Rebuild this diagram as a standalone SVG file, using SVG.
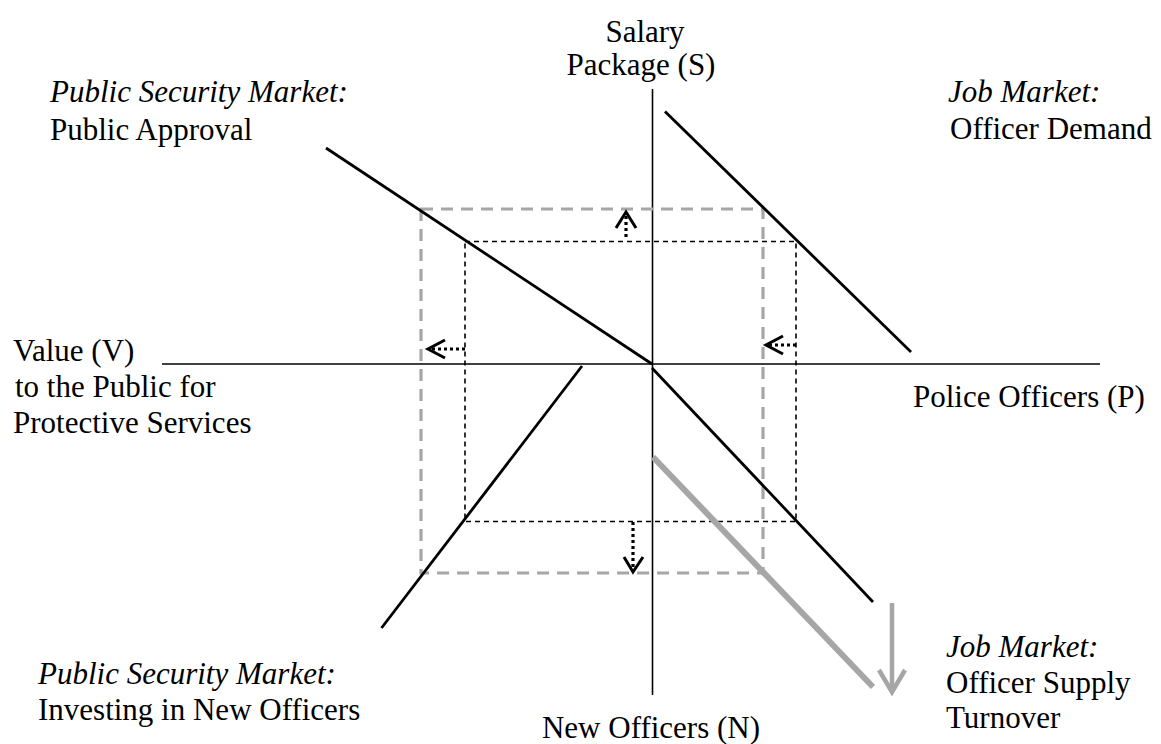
<svg xmlns="http://www.w3.org/2000/svg" width="1161" height="744" viewBox="0 0 1161 744">
<defs>
<style>
text{font-family:"Liberation Serif","Times New Roman",serif;font-size:31px;fill:#000}
.it{font-style:italic}
.axis{stroke:#000;stroke-width:1.6;fill:none}
.curve{stroke:#000;stroke-width:2.8;fill:none}
.gbox{stroke:#a6a6a6;stroke-width:3.2;stroke-dasharray:12 8;fill:none}
.bbox{stroke:#000;stroke-width:1.6;stroke-dasharray:5 4;fill:none}
.dot{stroke:#000;stroke-width:3.2;stroke-dasharray:3 3;fill:none}
.head{stroke:#000;stroke-width:3;fill:none}
.grey{stroke:#a6a6a6;stroke-width:6;fill:none}
</style>
</defs>
<rect width="1161" height="744" fill="#fff"/>
<g id="connectors">
<line class="axis" x1="652.5" y1="89" x2="652.5" y2="695"/>
<line class="axis" x1="162" y1="364" x2="1100" y2="364"/>
<rect class="gbox" x="421" y="209" width="342" height="364"/>
<rect class="bbox" x="465" y="241.5" width="331" height="280"/>
<line class="curve" x1="326" y1="148" x2="652" y2="364"/>
<line class="curve" x1="665" y1="111.5" x2="911" y2="352"/>
<line class="curve" x1="652" y1="368" x2="873" y2="602"/>
<line class="curve" x1="582" y1="366" x2="381.5" y2="628"/>
<line class="grey" x1="653" y1="457" x2="873" y2="687"/>
<line x1="892" y1="603" x2="892" y2="690" stroke="#a6a6a6" stroke-width="4.5"/>
<polyline points="879,670 892,692 905,670" stroke="#a6a6a6" stroke-width="4.5" fill="none"/>
<line class="dot" x1="626" y1="237" x2="626" y2="214"/>
<polyline class="head" points="616,228 626,212 636,228"/>
<line class="dot" x1="465" y1="349" x2="430" y2="349"/>
<polyline class="head" points="445,340 428,349 445,358"/>
<line class="dot" x1="796" y1="345" x2="768" y2="345"/>
<polyline class="head" points="783,336 766,345 783,354"/>
<line class="dot" x1="633" y1="522" x2="633" y2="568"/>
<polyline class="head" points="624,557 633,572 643,557"/>
</g>
<g id="label-s"><text x="645" y="42" text-anchor="middle">Salary</text><text x="641" y="75" text-anchor="middle">Package (S)</text></g>
<g id="label-psm-approval"><text class="it" x="50" y="102">Public Security Market:</text><text x="50" y="140">Public Approval</text></g>
<g id="label-job-demand"><text class="it" x="948" y="102">Job Market:</text><text x="950" y="139">Officer Demand</text></g>
<g id="label-v"><text x="13" y="361">Value (V)</text><text x="15" y="397">to the Public for</text><text x="13" y="433">Protective Services</text></g>
<g id="label-p"><text x="913" y="407">Police Officers (P)</text></g>
<g id="label-psm-invest"><text class="it" x="38" y="684">Public Security Market:</text><text x="38" y="720">Investing in New Officers</text></g>
<g id="label-job-supply"><text class="it" x="946" y="657">Job Market:</text><text x="946" y="693">Officer Supply</text><text x="946" y="728">Turnover</text></g>
<g id="label-n"><text x="651" y="738" text-anchor="middle">New Officers (N)</text></g>
</svg>
